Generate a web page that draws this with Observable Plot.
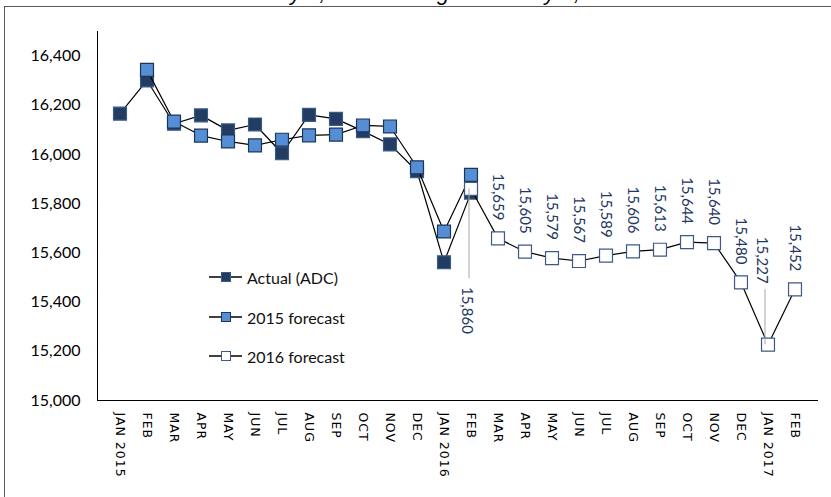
<!DOCTYPE html>
<html><head><meta charset="utf-8">
<script src="https://cdn.jsdelivr.net/npm/d3@7"></script>
<script src="https://cdn.jsdelivr.net/npm/@observablehq/plot@0.6"></script>
<style>
body{margin:0;background:#fff;}
#wrap{position:relative;width:831px;height:497px;overflow:hidden;background:#fff;}
#frame{position:absolute;left:4px;top:6px;width:900px;height:600px;border:1.5px solid #5a5a5a;box-sizing:border-box;}
#title{position:absolute;left:0;width:858px;top:-18px;text-align:center;font:italic 22px "Liberation Sans",Arial,sans-serif;line-height:22px;white-space:nowrap;color:#000;}
#chart{position:absolute;left:0;top:0;}
#legend{position:absolute;left:209px;top:0;font:16px Lato,sans-serif;color:#111;}
.row{position:absolute;left:0;height:20px;display:flex;align-items:center;white-space:nowrap;}
.row svg{margin-right:4px;}
g[aria-label^="x-axis"] text{font-family:"DejaVu Sans",sans-serif;font-size:12.5px;letter-spacing:1px;fill:#000;}
g[aria-label^="y-axis"] text{font-family:Lato,sans-serif;font-size:16px;fill:#000;}
g[aria-label*="axis"] path, g[aria-label*="axis"] .domain, g[aria-label$="line"] line{stroke:#857d62;stroke-width:1.2px;}
</style>
</head><body>
<div id="wrap">
  <div id="frame"></div>
  <div id="title">January 1, 2015 through February 1, 2017</div>
  <div id="chart"></div>
  <div id="legend"></div>
</div>
<script>
// Categories (month keys) and their axis labels
const months = ["2015-01","2015-02","2015-03","2015-04","2015-05","2015-06","2015-07","2015-08","2015-09","2015-10","2015-11","2015-12",
  "2016-01","2016-02","2016-03","2016-04","2016-05","2016-06","2016-07","2016-08","2016-09","2016-10","2016-11","2016-12",
  "2017-01","2017-02"];
const monthLabels = ["JAN 2015","FEB","MAR","APR","MAY","JUN","JUL","AUG","SEP","OCT","NOV","DEC",
  "JAN 2016","FEB","MAR","APR","MAY","JUN","JUL","AUG","SEP","OCT","NOV","DEC",
  "JAN 2017","FEB"];
const yTicks = [15000,15200,15400,15600,15800,16000,16200,16400];

// Series (Actual: JAN 2015 - FEB 2016; 2015 forecast: FEB 2015 - FEB 2016; 2016 forecast: FEB 2016 - FEB 2017)
const actualADC   = [16166,16301,16125,16159,16098,16122,16005,16161,16145,16095,16041,15932,15562,15845];
const forecast2015 = [16344,16134,16077,16053,16037,16060,16078,16081,16118,16114,15948,15687,15917];
const forecast2016 = [15860,15659,15605,15579,15567,15589,15606,15613,15644,15640,15480,15227,15452];
const seriesNames = ["Actual (ADC)","2015 forecast","2016 forecast"];

const rows = (vals, start, s) => vals.map((v,i) => ({month: months[start+i], value: v, series: s, i}));
const A = rows(actualADC, 0, seriesNames[0]);
const F15 = rows(forecast2015, 1, seriesNames[1]);
const F16 = rows(forecast2016, months.indexOf("2016-02"), seriesNames[2]);

const styles = [
  {fill:"#223d61", stroke:"#3a5b86"},
  {fill:"#558ed5", stroke:"#1d3658"},
  {fill:"#ffffff", stroke:"#3d5a84"}
];
const fmt = d3.format(",");
const belowIdx = 0;                  // FEB 2016 label placed below with leader
const leaderAboveIdx = 11;           // JAN 2017 label placed above with leader
const plainLabels = F16.filter(d => d.i !== belowIdx && d.i !== leaderAboveIdx);

const marks = [];
[A, F15, F16].forEach((data, k) => {
  marks.push(Plot.line(data, {x: "month", y: "value", stroke: "#000", strokeWidth: 1.2}));
  marks.push(Plot.dot(data, {x: "month", y: "value", symbol: "square", r: 7.3, fill: styles[k].fill, stroke: styles[k].stroke, strokeWidth: 1.2}));
});
marks.push(
  Plot.ruleX(F16.filter(d => d.i === belowIdx), {x: "month", y1: "value", y2: "value", insetBottom: -90, dx: -2, stroke: "#a6a6a6", strokeWidth: 1}),
  Plot.ruleX(F16.filter(d => d.i === leaderAboveIdx), {x: "month", y1: "value", y2: "value", insetTop: -55, dx: -3, stroke: "#a6a6a6", strokeWidth: 1}),
  Plot.text(plainLabels, {x: "month", y: "value", text: d => fmt(d.value), rotate: 90, textAnchor: "end", dy: -18, fill: "#1f3864", fontSize: 15, fontFamily: "Lato"}),
  Plot.text(F16.filter(d => d.i === leaderAboveIdx), {x: "month", y: "value", text: d => fmt(d.value), rotate: 90, textAnchor: "end", dy: -61, dx: -6.5, fill: "#1f3864", fontSize: 15, fontFamily: "Lato"}),
  Plot.text(F16.filter(d => d.i === belowIdx), {x: "month", y: "value", text: d => fmt(d.value), rotate: 90, textAnchor: "start", dy: 98, dx: -4, fill: "#1f3864", fontSize: 15, fontFamily: "Lato"})
);

const chart = Plot.plot({
  width: 831, height: 497,
  marginLeft: 97, marginRight: 14, marginTop: 31, marginBottom: 97,
  style: {background: "transparent", fontFamily: "Lato", overflow: "visible"},
  x: {type: "band", domain: months, padding: 0, tickFormat: d => monthLabels[months.indexOf(d)], tickRotate: 90, tickSize: 0, tickPadding: 12, line: true, label: null},
  y: {domain: [15000, 16500], ticks: yTicks, tickFormat: d => fmt(d), tickSize: 0, tickPadding: 17, line: true, label: null},
  marks
});
document.getElementById("chart").appendChild(chart);

// Legend
const legend = document.getElementById("legend");
const rowY = [267, 307, 346];
seriesNames.forEach((name, k) => {
  const row = document.createElement("div");
  row.className = "row";
  row.style.top = rowY[k] + "px";
  row.innerHTML = `<svg width="34" height="12"><line x1="0" x2="33" y1="6" y2="6" stroke="#000" stroke-width="1.3"/><rect x="12.5" y="1.5" width="9" height="9" fill="${styles[k].fill}" stroke="${styles[k].stroke}" stroke-width="1"/></svg><span>${name}</span>`;
  legend.appendChild(row);
});
</script>
</body></html>
